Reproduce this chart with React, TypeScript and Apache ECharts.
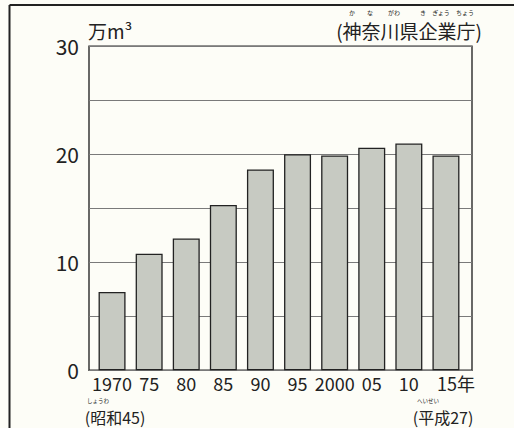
import React, { useEffect, useRef } from "react";
import * as echarts from "echarts";

const years = ["1970", "75", "80", "85", "90", "95", "2000", "05", "10", "15"];
const values = [7.25, 10.8, 12.2, 15.3, 18.6, 20.0, 19.9, 20.6, 21.0, 19.9];
const yTicks = [0, 10, 20, 30];
const unitLabel = "万m³";
const sourceLabel = "(神奈川県企業庁)";
const firstSub = "(昭和45)";
const lastSub = "(平成27)";

const FONT = "'Noto Sans CJK JP', 'Noto Sans', sans-serif";
const INK = "#222";

export default function App() {
  const ref = useRef<HTMLDivElement>(null);
  useEffect(() => {
    const chart = echarts.init(ref.current!, null, { renderer: "svg" });
    const last = years.length - 1;
    const small = (text: string, x: number, y: number, size = 6) => ({
      type: "text",
      x,
      y,
      style: { text, fontSize: size, fill: INK, fontFamily: FONT, align: "center", verticalAlign: "middle" },
    });
    const sub = (text: string, x: number, y: number) => ({
      type: "text",
      x,
      y,
      style: { text, fontSize: 16, fill: INK, fontFamily: FONT, align: "center", verticalAlign: "middle" },
    });
    chart.setOption({
      animation: false,
      backgroundColor: "#fdfdf7",
      textStyle: { fontFamily: FONT, color: INK },
      grid: [
        { left: 89, top: 46.3, width: 383, height: 324, show: true, borderColor: "#2a2a2a", borderWidth: 1.4, backgroundColor: "transparent" },
        { left: 93.5, top: 46.3, width: 371, height: 324 },
      ],
      xAxis: [
        { gridIndex: 0, type: "value", min: 0, max: 1, show: false },
        {
          gridIndex: 1,
          type: "category",
          data: years,
          axisLine: { show: false },
          axisTick: { show: false },
          axisLabel: {
            interval: 0,
            margin: 4,
            fontSize: 18,
            color: INK,
            fontFamily: FONT,
            formatter: (v: string, i: number) => (i === last ? "{p|}" + v + "年" : v),
            rich: { p: { width: 20 } },
          },
        },
      ],
      yAxis: [
        {
          gridIndex: 0,
          type: "value",
          min: 0,
          max: 30,
          interval: 5,
          axisLine: { show: false },
          axisTick: { show: false },
          splitLine: { lineStyle: { color: "#7a7a7a", width: 1 } },
          axisLabel: {
            fontSize: 21,
            margin: 10,
            color: INK,
            fontFamily: FONT,
            formatter: (v: number) => (yTicks.includes(v) ? String(v) : ""),
          },
        },
        { gridIndex: 1, type: "value", min: 0, max: 30, show: false },
      ],
      series: [
        {
          type: "bar",
          xAxisIndex: 1,
          yAxisIndex: 1,
          data: values,
          barWidth: 27,
          itemStyle: { color: "#c7cac2", borderColor: "#222", borderWidth: 1.3 },
        },
      ],
      graphic: [
        { type: "line", shape: { x1: 9.5, y1: 5, x2: 9.5, y2: 428 }, style: { stroke: INK, lineWidth: 2 } },
        { type: "line", shape: { x1: 9.5, y1: 5, x2: 514, y2: 5 }, style: { stroke: INK, lineWidth: 2 } },
        {
          type: "text",
          x: 88,
          y: 30,
          style: { text: unitLabel, fontSize: 19, fill: INK, fontFamily: FONT, align: "left", verticalAlign: "middle" },
        },
        {
          type: "text",
          x: 482,
          y: 30,
          style: { text: sourceLabel, fontSize: 19, fill: INK, fontFamily: FONT, align: "right", verticalAlign: "middle" },
        },
        small("か", 352, 12),
        small("な", 370, 12),
        small("がわ", 394, 12),
        small("き", 423, 12),
        small("ぎょう", 441, 12),
        small("ちょう", 465, 12),
        sub(firstSub, 115, 416.5),
        sub(lastSub, 443, 416.5),
        small("しょうわ", 98, 401, 5.5),
        small("へいせい", 428, 401, 5.5),
      ],
    });
    return () => chart.dispose();
  }, []);
  return <div ref={ref} style={{ position: "fixed", left: 0, top: 0, width: 514, height: 428 }} />;
}
